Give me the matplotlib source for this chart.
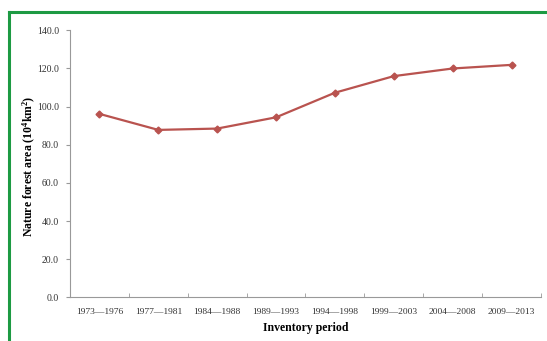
import matplotlib.pyplot as plt
from matplotlib.lines import Line2D
from matplotlib.ticker import FormatStrFormatter

# --- data ---
periods = ["1973\u20141976", "1977\u20141981", "1984\u20141988", "1989\u20141993",
           "1994\u20141998", "1999\u20142003", "2004\u20142008", "2009\u20142013"]
area = [96.2, 87.8, 88.5, 94.4, 107.3, 116.0, 120.0, 121.9]
y_ticks = [0, 20, 40, 60, 80, 100, 120, 140]

plt.rcParams['font.family'] = ['Liberation Serif', 'DejaVu Serif']
plt.rcParams['mathtext.fontset'] = 'custom'
plt.rcParams['mathtext.rm'] = 'Liberation Serif:bold'
plt.rcParams['mathtext.bf'] = 'Liberation Serif:bold'
plt.rcParams['mathtext.it'] = 'Liberation Serif:bold'

fig = plt.figure(figsize=(5.47, 3.41), dpi=100)
fig.patch.set_facecolor('white')
ax = fig.add_axes([0.128, 0.128, 0.861, 0.783])

x = list(range(len(periods)))
ax.plot(x, area, color='#b9534f', linewidth=1.6, marker='D', markersize=3.5,
        markerfacecolor='#b9534f', markeredgecolor='#b9534f')

ax.set_xlim(-0.5, len(periods) - 0.5)
ax.set_ylim(0, 140)
ax.set_yticks(y_ticks)
ax.yaxis.set_major_formatter(FormatStrFormatter('%.1f'))
ax.set_xticks(x)
ax.set_xticklabels(periods)
# category boundary ticks like Excel
ax.set_xticks([i - 0.5 for i in range(len(periods) + 1)], minor=True)
ax.tick_params(axis='x', which='major', length=0, labelsize=6.8, colors='#333333', pad=8)
ax.tick_params(axis='x', which='minor', direction='in', length=3, color='#999999')
ax.tick_params(axis='y', direction='out', length=3, color='#999999', labelsize=7,
               labelcolor='#333333', pad=5)

for s in ['top', 'right']:
    ax.spines[s].set_visible(False)
for s in ['left', 'bottom']:
    ax.spines[s].set_color('#999999')
    ax.spines[s].set_linewidth(0.8)

ax.set_xlabel("Inventory period", fontsize=8.5, fontweight='bold', labelpad=4)
ax.set_ylabel("Nature forest area (10$^{4}$km$^{2}$)", fontsize=8.5, fontweight='bold')
ax.yaxis.set_label_coords(-0.068, 0.49)

# green frame (top and left edges visible)
green = '#1d9a43'
fig.add_artist(Line2D([8.5 / 547, 1.0], [1 - 11.5 / 341, 1 - 11.5 / 341],
                      transform=fig.transFigure, color=green, linewidth=2.2))
fig.add_artist(Line2D([8.5 / 547, 8.5 / 547], [0.0, 1 - 11.5 / 341],
                      transform=fig.transFigure, color=green, linewidth=2.2))

fig.savefig('out.png', dpi=100)
